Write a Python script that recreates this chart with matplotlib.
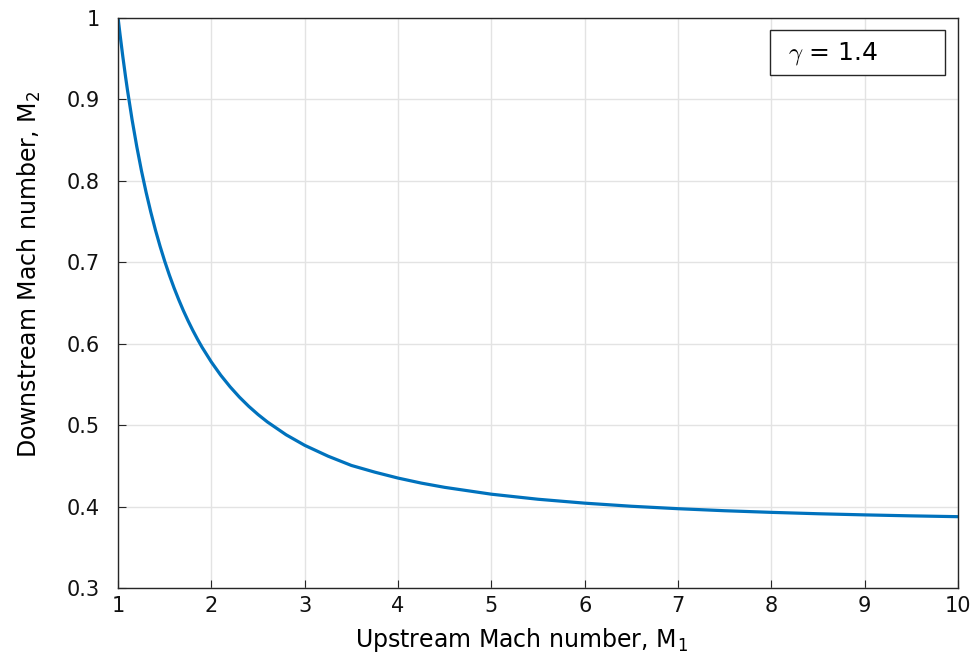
import matplotlib
matplotlib.use("Agg")
import matplotlib.pyplot as plt
from matplotlib.patches import Rectangle

plt.rcParams['font.family'] = ['DejaVu Sans']
plt.rcParams['mathtext.fontset'] = 'cm'

# Upstream Mach number
m1 = [1.0, 1.01, 1.02, 1.05, 1.08, 1.1, 1.15, 1.2, 1.25, 1.3, 1.35, 1.4, 1.45,
      1.5, 1.55, 1.6, 1.65, 1.7, 1.75, 1.8, 1.85, 1.9, 2.0, 2.1, 2.2, 2.3, 2.4,
      2.5, 2.6, 2.8, 3.0, 3.25, 3.5, 3.75, 4.0, 4.25, 4.5, 5.0, 5.5, 6.0, 6.5,
      7.0, 7.5, 8.0, 8.5, 9.0, 9.5, 10.0]
# Downstream Mach number
m2 = [1.0, 0.9901, 0.9805, 0.9531, 0.9277, 0.9118, 0.8750, 0.8422, 0.8126,
      0.7860, 0.7618, 0.7397, 0.7196, 0.7011, 0.6841, 0.6684, 0.6540, 0.6405,
      0.6281, 0.6165, 0.6057, 0.5956, 0.5774, 0.5613, 0.5471, 0.5344, 0.5231,
      0.5130, 0.5039, 0.4882, 0.4752, 0.4619, 0.4505, 0.4423, 0.4350, 0.4288,
      0.4236, 0.4152, 0.4090, 0.4042, 0.4004, 0.3974, 0.3949, 0.3929, 0.3912,
      0.3898, 0.3886, 0.3876]

xticks = [1, 2, 3, 4, 5, 6, 7, 8, 9, 10]
yticks = [0.3, 0.4, 0.5, 0.6, 0.7, 0.8, 0.9, 1.0]
yticklabels = ['0.3', '0.4', '0.5', '0.6', '0.7', '0.8', '0.9', '1']

fig = plt.figure(figsize=(9.76, 6.54), dpi=100)
ax = fig.add_axes([0.121, 0.1009, 0.8606, 0.8716])
ax.plot(m1, m2, color='#0072BD', lw=2.3, solid_joinstyle='round')
ax.set_xlim(1, 10)
ax.set_ylim(0.3, 1.0)
ax.set_xticks(xticks)
ax.set_xticklabels([str(t) for t in xticks])
ax.set_yticks(yticks)
ax.set_yticklabels(yticklabels)
ax.grid(True, color='#e3e3e3', lw=1)
ax.set_axisbelow(True)
ax.tick_params(direction='in', length=6, labelsize=15, color='#262626', labelcolor='#111111')
ax.tick_params(axis='x', pad=6)
ax.tick_params(axis='y', pad=13)
for s in ax.spines.values():
    s.set_color('#262626')
    s.set_linewidth(1)

ax.set_xlabel('Upstream Mach number, M$_\\mathregular{1}$', fontsize=17)
ax.set_ylabel('Downstream Mach number, M$_\\mathregular{2}$', fontsize=17)
ax.xaxis.set_label_coords(0.48, -0.066)
ax.yaxis.set_label_coords(-0.09, 0.55)

ax.add_patch(Rectangle((0.776, 0.90), 0.209, 0.079, transform=ax.transAxes,
                       facecolor='white', edgecolor='#262626', lw=1, zorder=5))
ax.text(0.797, 0.938, r'$\gamma$ = 1.4', transform=ax.transAxes, fontsize=18,
        va='center', ha='left', zorder=6)

fig.savefig('out.png', dpi=100)
